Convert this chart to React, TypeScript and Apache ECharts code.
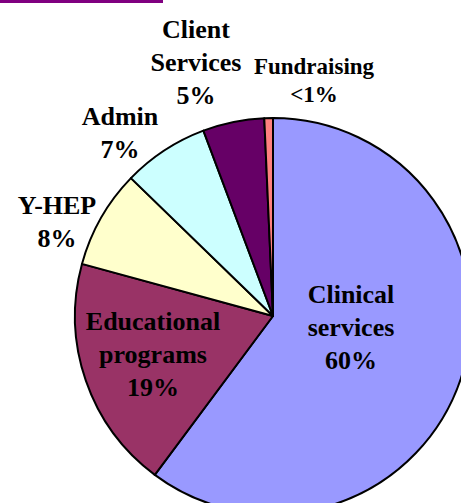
import React, { useEffect, useRef } from "react";
import * as echarts from "echarts";

const categories = ["Clinical services", "Educational programs", "Y-HEP", "Admin", "Client Services", "Fundraising"];
const labelTexts = ["Clinical\nservices", "Educational\nprograms", "Y-HEP", "Admin", "Client\nServices", "Fundraising"];
const values = [60, 19, 8, 7, 5, 0.7];
const colors = ["#9999FF", "#993366", "#FFFFCC", "#CCFFFF", "#660066", "#FF8080"];
const labelPos: [number, number][] = [
  [351, 327],
  [153, 354],
  [57, 222],
  [120, 133],
  [196, 62],
  [314, 80],
];
const labelSizes = [26, 26, 26, 26, 26, 23];

export default function App() {
  const ref = useRef<HTMLDivElement>(null);
  useEffect(() => {
    if (!ref.current) return;
    const chart = echarts.init(ref.current, null, { renderer: "svg" });
    chart.setOption({
      animation: false,
      backgroundColor: "#ffffff",
      graphic: [
        { type: "rect", left: 0, top: 0, shape: { x: 0, y: 0, width: 163, height: 3 }, style: { fill: "#800080" } },
      ],
      series: [
        {
          type: "pie",
          center: [273, 316],
          radius: 198,
          startAngle: 90,
          clockwise: true,
          avoidLabelOverlap: false,
          itemStyle: { borderColor: "#000000", borderWidth: 2 },
          label: {
            show: true,
            position: "outside",
            fontFamily: "Liberation Serif",
            fontWeight: "bold",
            fontSize: 26,
            lineHeight: 33,
            color: "#000000",
            align: "center",
            formatter: (p: any) => {
              const v = values[p.dataIndex];
              const pct = v < 1 ? "<1%" : Math.round(p.percent) + "%";
              return labelTexts[p.dataIndex] + "\n" + pct;
            },
          },
          labelLine: { show: false },
          labelLayout: (params: any) => {
            const pos = labelPos[params.dataIndex];
            return { x: pos[0], y: pos[1], align: "center", verticalAlign: "middle" };
          },
          emphasis: { disabled: true },
          data: categories.map((c, i) => ({
            name: c,
            value: values[i],
            itemStyle: { color: colors[i] },
            label: { fontSize: labelSizes[i], lineHeight: labelSizes[i] < 26 ? 28 : 33 },
          })),
        },
      ],
    });
    return () => chart.dispose();
  }, []);
  return <div ref={ref} style={{ position: "fixed", left: 0, top: 0, width: 461, height: 503 }} />;
}
